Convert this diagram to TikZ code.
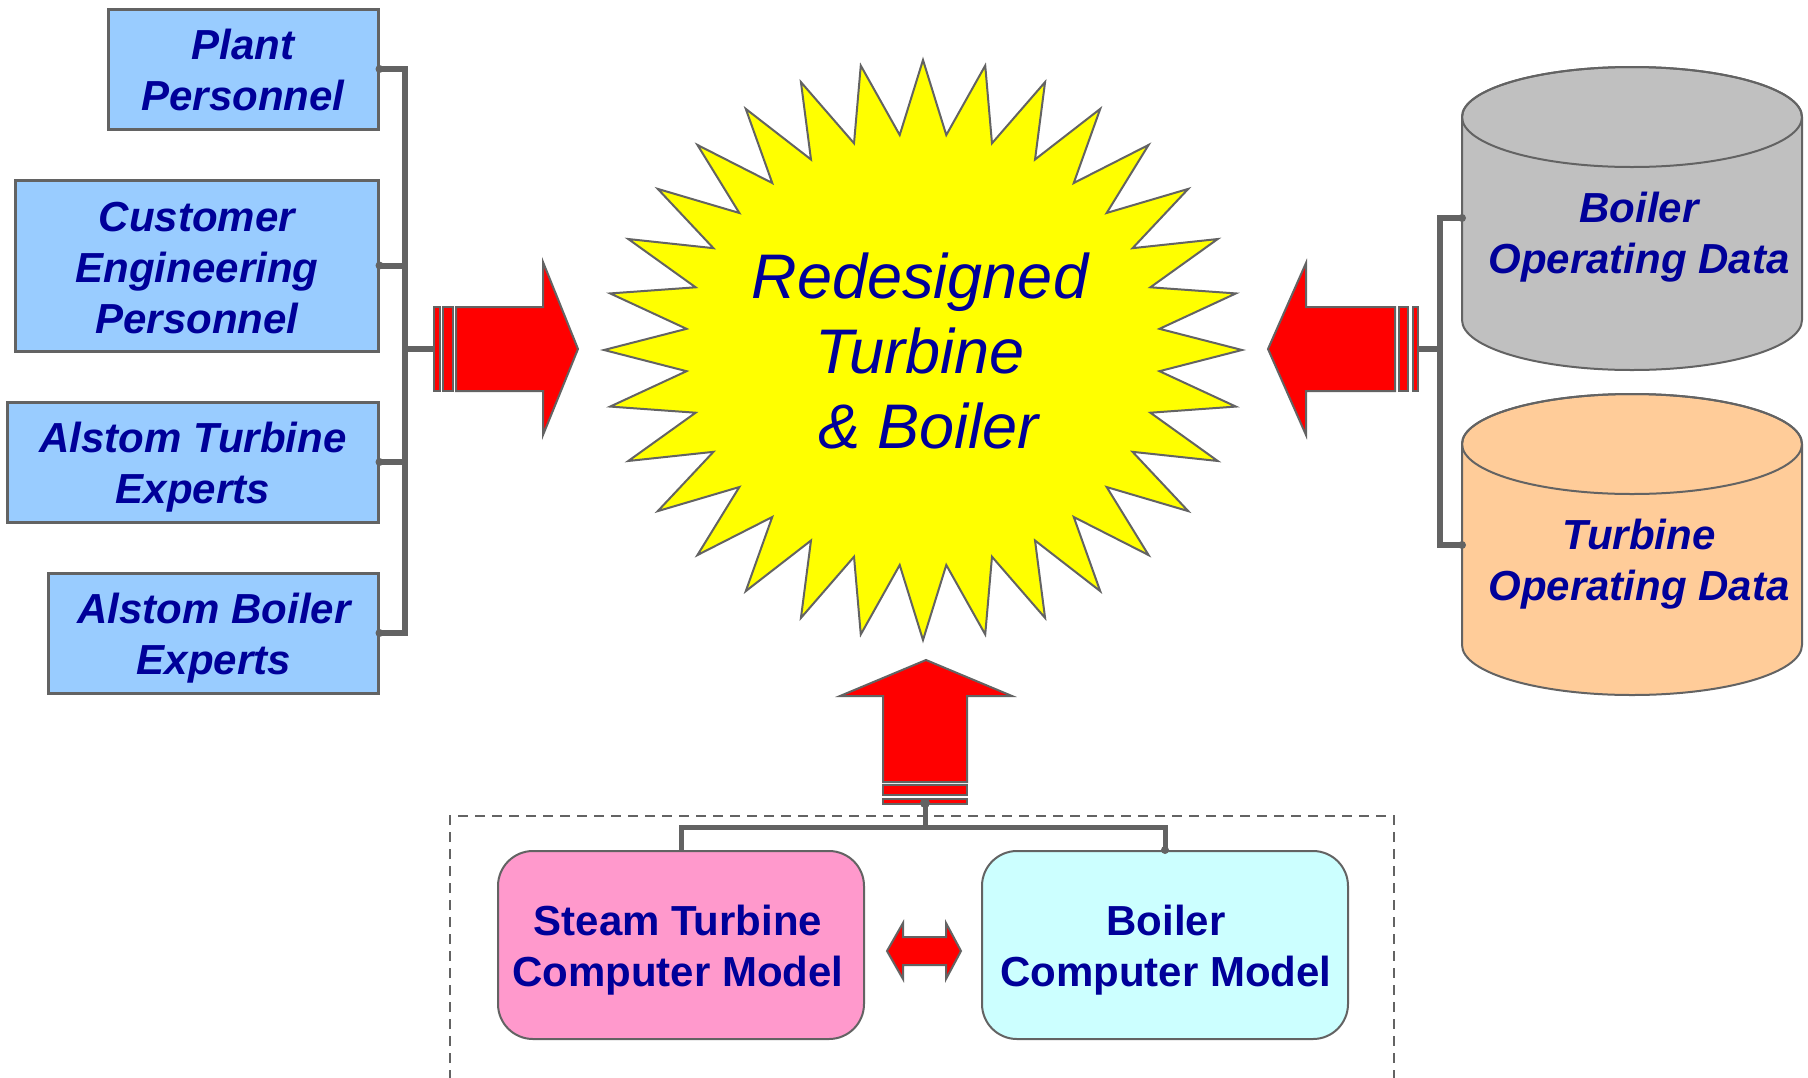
\documentclass[tikz,border=0pt]{standalone}
\usepackage{fontspec}
\setmainfont{Liberation Sans}
\definecolor{boxblue}{HTML}{99CCFF}
\definecolor{txtblue}{HTML}{000099}
\definecolor{edgegray}{HTML}{636363}
\definecolor{sunyellow}{HTML}{FFFF00}
\definecolor{cylgrey}{HTML}{C0C0C0}
\definecolor{cylpeach}{HTML}{FFCC99}
\definecolor{modpink}{HTML}{FF99CC}
\definecolor{modcyan}{HTML}{CCFFFF}
\definecolor{arrowred}{HTML}{FF0000}
\begin{document}
\begin{tikzpicture}[x=1pt,y=-1pt,
  person/.style={draw=edgegray, line width=3pt, fill=boxblue, text=txtblue,
    font=\fontsize{42}{51}\selectfont\bfseries\itshape, align=center,
    inner sep=0pt, minimum height=120pt},
  model/.style={draw=edgegray, line width=2pt, rounded corners=35pt,
    minimum width=366pt, minimum height=188pt, inner sep=0pt,
    font=\fontsize{42}{51}\selectfont\bfseries, text=txtblue, align=center},
  datatext/.style={text=txtblue, font=\fontsize{42}{51}\selectfont\bfseries\itshape,
    align=center, inner sep=0pt},
  label/.style={text=txtblue, font=\fontsize{42}{51}\selectfont\bfseries,
    align=center, inner sep=0pt},
  plabel/.style={text=txtblue, font=\fontsize{42}{51}\selectfont\bfseries\itshape,
    align=center, inner sep=0pt},
  cyl/.style={draw=edgegray, line width=2pt},
  blockarrow/.style={fill=arrowred, draw=edgegray, line width=2pt, line join=miter},
  link/.style={draw=edgegray, line width=6pt, line join=miter},
  jdot/.style={fill=edgegray, draw=none}
]
\useasboundingbox (0,0) rectangle (1808,1077);

% central burst
\filldraw[fill=sunyellow, draw=edgegray, line width=2pt, line join=miter]
  (923,60) \foreach \i in {1,...,63}{
    -- ({923+319*(mod(\i,2)==0 ? 1 : 0.745)*cos(90+\i*5.625)},
        {350-290*(mod(\i,2)==0 ? 1 : 0.745)*sin(90+\i*5.625)}) } -- cycle;
\node[text=txtblue, font=\fontsize{63}{75}\selectfont\itshape, align=center,
      inner sep=0pt] (core) at (920,351) {Redesigned\\Turbine\\\ \& Boiler};

% left input arrow with striped tail
\filldraw[blockarrow] (456,307) -- (543,307) -- (543,262) -- (578,349)
  -- (543,435) -- (543,391) -- (456,391) -- cycle;
\filldraw[blockarrow] (434,307) rectangle (440,391);
\filldraw[blockarrow] (443,307) rectangle (453,391);
\coordinate (ltail) at (434,349);

% right input arrow with striped tail
\filldraw[blockarrow] (1395,307) -- (1306,307) -- (1306,263) -- (1268,349)
  -- (1306,435) -- (1306,391) -- (1395,391) -- cycle;
\filldraw[blockarrow] (1399,307) rectangle (1408,391);
\filldraw[blockarrow] (1413,307) rectangle (1418,391);
\coordinate (rtail) at (1418,349);

% upward input arrow with striped tail
\filldraw[blockarrow] (883,782) -- (883,696) -- (840,696) -- (926,660)
  -- (1012,696) -- (967,696) -- (967,782) -- cycle;
\filldraw[blockarrow] (883,785) rectangle (967,795);
\filldraw[blockarrow] (883,799) rectangle (967,804);
\coordinate (utail) at (925,803);

% people
\node[person, minimum width=270pt] (plant) at (243,69) {};
\node[plabel] at (243,70) {Plant\\Personnel};
\node[person, minimum width=363pt, minimum height=171pt] (cust) at (196.5,265.5) {};
\node[plabel] at (197,268) {Customer\\Engineering\\Personnel};
\node[person, minimum width=371pt] (aturb) at (192.5,462) {};
\node[plabel] at (193,467) {Alstom Turbine\\Experts};
\node[person, minimum width=330pt] (aboil) at (213,633) {};
\node[plabel] at (214,638) {Alstom Boiler\\Experts};

% data stores
\filldraw[cyl, fill=cylgrey] (1462,117) -- (1462,320)
  arc[start angle=180, end angle=360, x radius=170pt, y radius=50pt]
  -- (1802,117)
  arc[start angle=0, end angle=180, x radius=170pt, y radius=50pt] -- cycle;
\draw[cyl] (1632,117) ellipse[x radius=170pt, y radius=50pt];
\node[datatext] (bdata) at (1639,237) {Boiler\\Operating Data};
\coordinate (bcyl) at (1462,218);

\filldraw[cyl, fill=cylpeach] (1462,444) -- (1462,645)
  arc[start angle=180, end angle=360, x radius=170pt, y radius=50pt]
  -- (1802,444)
  arc[start angle=0, end angle=180, x radius=170pt, y radius=50pt] -- cycle;
\draw[cyl] (1632,444) ellipse[x radius=170pt, y radius=50pt];
\node[datatext] (tdata) at (1639,564) {Turbine\\Operating Data};
\coordinate (tcyl) at (1462,545);

% computer models
\draw[edgegray, line width=2pt, dash pattern=on 10pt off 7pt]
  (450,1080) -- (450,816) -- (1394,816) -- (1394,1080);
\node[model, fill=modpink] (steam) at (681,945) {};
\node[label] at (678,950) {Steam Turbine\\Computer Model};
\node[model, fill=modcyan] (boilm) at (1165,945) {};
\node[label] at (1166,950) {Boiler\\Computer Model};
\filldraw[blockarrow] (887,951) -- (903,923) -- (903,937) -- (946,937)
  -- (946,923) -- (961,951) -- (946,979) -- (946,965) -- (903,965)
  -- (903,979) -- cycle;

% left bracket
\coordinate (lspine) at (405,0);
\draw[link] (plant.east) -- (plant.east -| lspine) -- (aboil.east -| lspine) -- (aboil.east);
\draw[link] (cust.east) -- (cust.east -| lspine);
\draw[link] (aturb.east) -- (aturb.east -| lspine);
\draw[link] (lspine |- ltail) -- (ltail);
\foreach \b in {plant,cust,aturb,aboil} \fill[jdot] (\b.east) circle[radius=4pt];

% right bracket
\coordinate (rspine) at (1440,0);
\draw[link] (bcyl) -- (bcyl -| rspine) -- (tcyl -| rspine) -- (tcyl);
\draw[link] (rtail) -- (rtail -| rspine);
\fill[jdot] (bcyl) circle[radius=4pt];
\fill[jdot] (tcyl) circle[radius=4pt];

% bottom bus
\coordinate (ubus) at (0,827);
\draw[link, line width=5pt] (steam.north) -- (steam.north |- ubus)
  -- (boilm.north |- ubus) -- (boilm.north);
\draw[link, line width=5pt] (utail) -- (utail |- ubus);
\fill[jdot] (utail) circle[radius=5pt];
\fill[jdot] (boilm.north) circle[radius=4pt];
\end{tikzpicture}
\end{document}
